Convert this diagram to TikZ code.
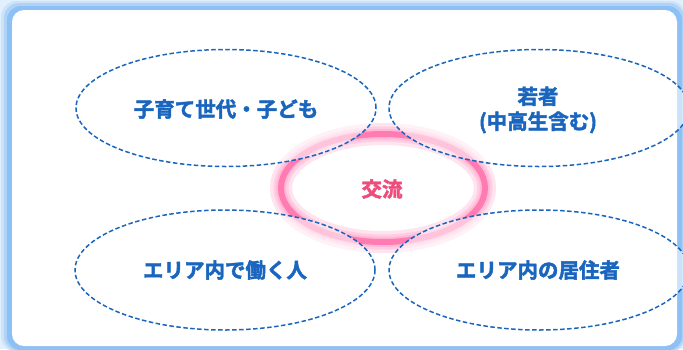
\documentclass[tikz,border=0pt]{standalone}
\usepackage{fontspec}
\usetikzlibrary{shapes.geometric}
\newfontfamily\jp{Noto Sans CJK JP}[UprightFont={* Bold}, FakeBold=2.2]
\definecolor{dblue}{HTML}{1A66BE}
\definecolor{fblue}{HTML}{8DC0F4}
\definecolor{pcore}{HTML}{FF7BB2}
\definecolor{phalo}{HTML}{FFB8D6}
\definecolor{ptext}{HTML}{EE4D7C}
\tikzset{
  group/.style={draw=dblue, line width=1.5pt, dash pattern=on 4.5pt off 2.5pt, fill=white, fill opacity=0.55, draw opacity=1},
  lbl/.style={font=\jp\fontsize{20.5}{25}\selectfont, text=dblue, align=center, text opacity=1}
}
\begin{document}
\begin{tikzpicture}[x=1pt,y=-1pt]
\useasboundingbox (0,0) rectangle (683,349);
% frame with soft blue glow
\fill[fblue!25] (0,0) rectangle (683,349);
\fill[fblue!45, rounded corners=16pt] (1,1) rectangle (686,352);
\fill[fblue!70, rounded corners=15pt] (4,3) rectangle (684,351);
\fill[fblue, rounded corners=14pt] (7,6) rectangle (682,350);
\fill[white, rounded corners=12pt] (12,10) rectangle (677,346);
% pink ring with glow
\coordinate (c) at (383,188);
\draw[phalo!40, line width=22pt] (c) ellipse [x radius=102, y radius=54];
\draw[phalo!70, line width=15pt] (c) ellipse [x radius=102, y radius=54];
\draw[phalo, line width=10pt] (c) ellipse [x radius=102, y radius=54];
\draw[pcore, line width=6pt] (c) ellipse [x radius=102, y radius=54];
% dashed groups
\node[group, ellipse, minimum width=300pt, minimum height=117pt, inner sep=0pt] (kids) at (226,108) {};
\node[group, ellipse, minimum width=300pt, minimum height=117pt, inner sep=0pt] (youth) at (539,108) {};
\node[group, ellipse, minimum width=300pt, minimum height=120pt, inner sep=0pt] (work) at (225,270) {};
\node[group, ellipse, minimum width=300pt, minimum height=120pt, inner sep=0pt] (live) at (539,270) {};
\node[lbl] (kidst) at (226,109) {子育て世代・子ども};
\node[lbl] (youtht) at (538,110) {若者\\(中高生含む)};
\node[lbl] (workt) at (225,270) {エリア内で働く人};
\node[lbl] (livet) at (538,270) {エリア内の居住者};
\node[lbl, text=ptext] (ex) at (382,189) {交流};
\end{tikzpicture}
\end{document}
